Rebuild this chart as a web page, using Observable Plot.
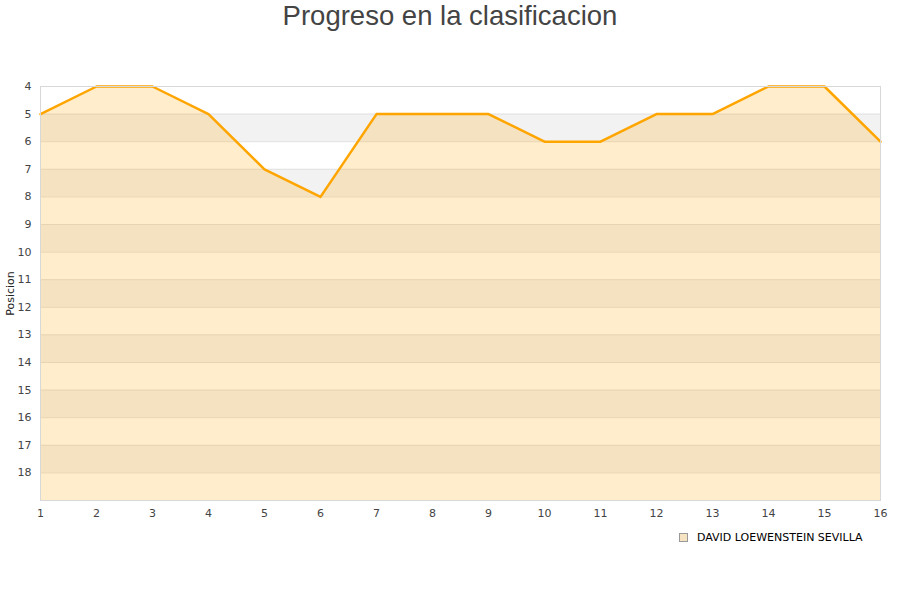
<!DOCTYPE html>
<html>
<head>
<meta charset="utf-8">
<script src="https://cdn.jsdelivr.net/npm/d3@7"></script>
<script src="https://cdn.jsdelivr.net/npm/@observablehq/plot@0.6"></script>
<style>
  html, body { margin: 0; padding: 0; background: #fff; }
  #wrap { position: relative; width: 900px; height: 600px; }
  #title { position: absolute; top: 0; left: 0; width: 900px; text-align: center;
           font-family: "Liberation Sans", Arial, sans-serif; font-size: 27.5px; color: #444; line-height: 32px; }
  #legend { position: absolute; left: 679px; top: 531px; font-family: "DejaVu Sans", sans-serif;
            font-size: 11px; color: #000; display: flex; align-items: center; }
  #legend .sw { width: 7px; height: 7px; border: 1px solid #999; background: #f5e3c2; margin-right: 9px; }
  #chart { position: absolute; top: 0; left: 0; }
</style>
</head>
<body>
<div id="wrap">
  <div id="chart"></div>
  <div id="title">Progreso en la clasificacion</div>
  <div id="legend"><div class="sw"></div><span>DAVID LOEWENSTEIN SEVILLA</span></div>
</div>
<script>
const jornadas = [1, 2, 3, 4, 5, 6, 7, 8, 9, 10, 11, 12, 13, 14, 15, 16];
const posiciones = [5, 4, 4, 5, 7, 8, 5, 5, 5, 6, 6, 5, 5, 4, 4, 6];
const yTicks = [4, 5, 6, 7, 8, 9, 10, 11, 12, 13, 14, 15, 16, 17, 18];
const bandStarts = [5, 7, 9, 11, 13, 15, 17];
const yMin = 4, yMax = 19;

const data = jornadas.map((j, i) => ({ jornada: j, pos: posiciones[i] }));

const chart = Plot.plot({
  width: 900,
  height: 600,
  marginTop: 86,
  marginLeft: 40,
  marginRight: 20,
  marginBottom: 100,
  style: { fontFamily: "DejaVu Sans, sans-serif", fontSize: "11px", color: "#444", background: "transparent" },
  x: { domain: [1, 16], ticks: jornadas, tickSize: 0, tickPadding: 9, label: null },
  y: { domain: [yMin, yMax], reverse: true, ticks: yTicks, tickSize: 0, tickPadding: 9, label: null },
  marks: [
    Plot.rect(bandStarts, { x1: 1, x2: 16, y1: d => d, y2: d => d + 1, fill: "#f2f2f2" }),
    Plot.ruleY(yTicks, { stroke: "#e0e0e0", strokeWidth: 1 }),
    Plot.areaY(data, { x: "jornada", y1: yMax, y2: "pos", fill: "#ffa500", fillOpacity: 0.2 }),
    Plot.line(data, { x: "jornada", y: "pos", stroke: "#ffa500", strokeWidth: 2.5 }),
    Plot.frame({ stroke: "#d8d8d8" }),
    Plot.axisX({ ticks: jornadas, tickSize: 0, tickPadding: 9, label: null, fill: "#444" }),
    Plot.axisY({ ticks: yTicks, tickSize: 0, tickPadding: 9, label: null, fill: "#444" }),
    Plot.text(["Posicion"], { frameAnchor: "left", textAnchor: "middle", dx: -30, rotate: -90, fill: "#222", fontSize: 11 })
  ]
});
document.getElementById("chart").appendChild(chart);
</script>
</body>
</html>
